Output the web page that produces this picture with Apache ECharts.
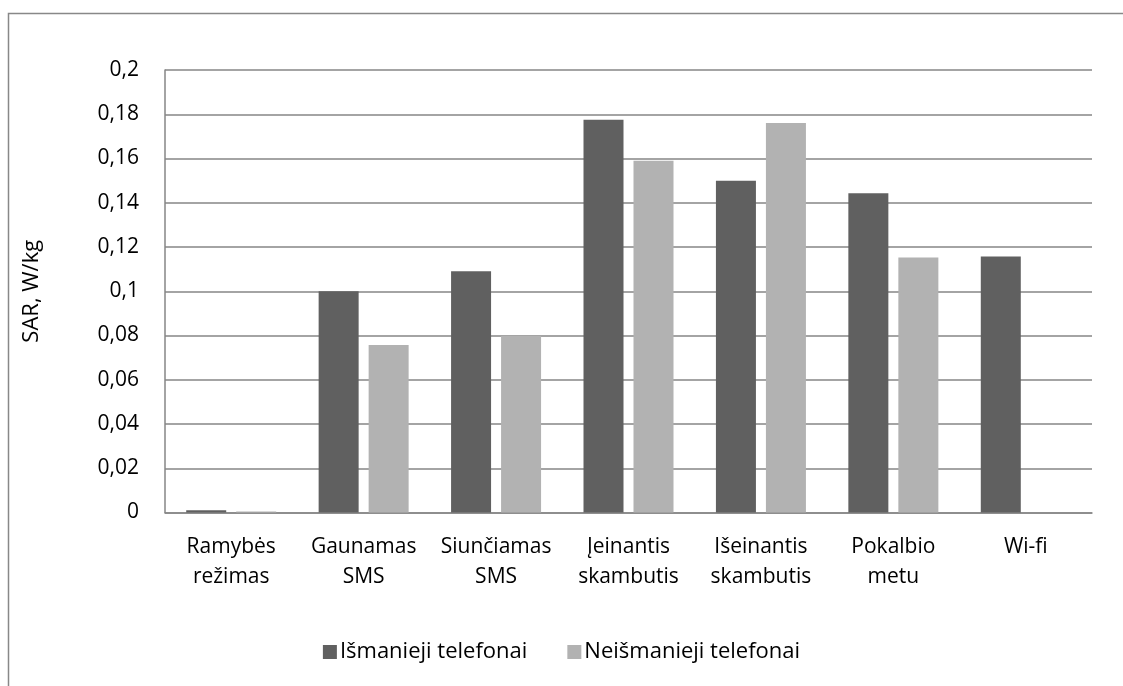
<!DOCTYPE html>
<html>
<head>
<meta charset="utf-8">
<script src="https://cdn.jsdelivr.net/npm/echarts@6/dist/echarts.min.js"></script>
<style>
html,body{margin:0;padding:0;background:#fff;}
#chart{width:1123px;height:686px;}
</style>
</head>
<body>
<div id="chart"></div>
<script>
var categories = ['Ramybės\nrežimas', 'Gaunamas\nSMS', 'Siunčiamas\nSMS', 'Įeinantis\nskambutis', 'Išeinantis\nskambutis', 'Pokalbio\nmetu', 'Wi-fi'];
var smartPhones = [0.001, 0.1, 0.109, 0.1775, 0.15, 0.1443, 0.1157];
var otherPhones = [0.0005, 0.0757, 0.0798, 0.159, 0.176, 0.1153, null];
var seriesNames = ['Išmanieji telefonai', 'Neišmanieji telefonai'];
var yName = 'SAR, W/kg';

var font = 'Open Sans';
var chart = echarts.init(document.getElementById('chart'), null, {renderer: 'canvas'});
chart.setOption({
  animation: false,
  backgroundColor: '#fff',
  graphic: [{
    type: 'rect',
    shape: {x: 8.5, y: 13.5, width: 1300, height: 1000},
    style: {fill: 'none', stroke: '#888888', lineWidth: 1.5},
    silent: true
  }],
  grid: {left: 165, right: 31, top: 70, bottom: 173.5, containLabel: false},
  legend: {
    bottom: 18,
    left: 'center',
    icon: 'rect',
    itemWidth: 14,
    itemHeight: 14,
    itemGap: 40,
    textStyle: {fontFamily: font, fontSize: 22, color: '#000', padding: [0, 0, 0, -2]},
    data: seriesNames
  },
  xAxis: {
    type: 'category',
    data: categories,
    axisLine: {lineStyle: {color: '#868686', width: 1.5}},
    axisTick: {show: false},
    axisLabel: {fontFamily: font, fontSize: 21, color: '#000', lineHeight: 30, margin: 20, interval: 0}
  },
  yAxis: {
    type: 'value',
    min: 0,
    max: 0.2,
    interval: 0.02,
    name: yName,
    nameLocation: 'middle',
    nameGap: 122,
    nameTextStyle: {fontFamily: font, fontSize: 22, color: '#000'},
    axisLine: {show: true, lineStyle: {color: '#868686', width: 1.5}},
    axisTick: {show: false},
    splitLine: {lineStyle: {color: '#868686', width: 1.5}},
    axisLabel: {
      fontFamily: font, fontSize: 21, color: '#000', margin: 26,
      formatter: function (v) { return String(Math.round(v * 100) / 100).replace('.', ','); }
    }
  },
  series: [{
    name: seriesNames[0],
    type: 'bar',
    data: smartPhones,
    barWidth: 40,
    barGap: '25%',
    itemStyle: {color: '#606060'}
  }, {
    name: seriesNames[1],
    type: 'bar',
    data: otherPhones,
    barWidth: 40,
    itemStyle: {color: '#b2b2b2'}
  }]
});
</script>
</body>
</html>
